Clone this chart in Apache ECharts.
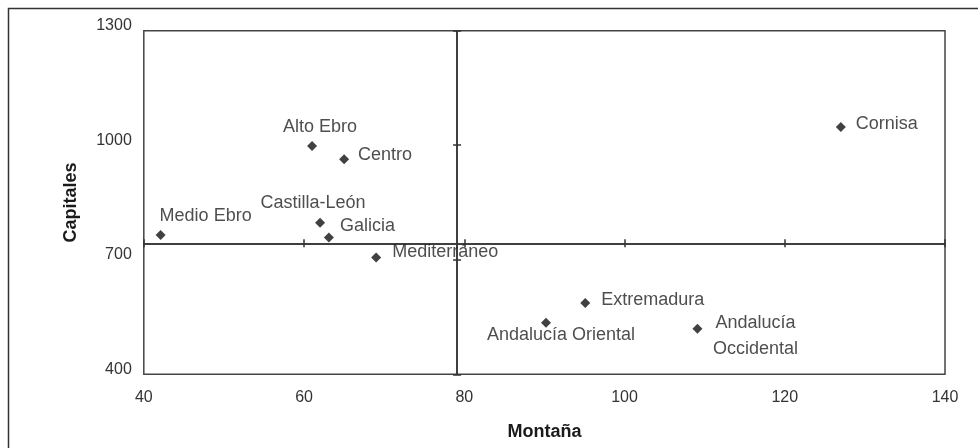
<!DOCTYPE html>
<html>
<head>
<meta charset="utf-8">
<script src="https://cdn.jsdelivr.net/npm/echarts@6/dist/echarts.min.js"></script>
<style>
  html, body { margin: 0; padding: 0; background: #fff; }
  #chart { width: 978px; height: 448px; }
</style>
</head>
<body>
<div id="chart"></div>
<script>
// ---- data ----
const regions   = ['Medio Ebro', 'Alto Ebro', 'Centro', 'Castilla-León', 'Galicia', 'Mediterráneo', 'Extremadura', 'Andalucía Oriental', 'Andalucía Occidental', 'Cornisa'];
const montana   = [42.1, 61.0, 65.0, 62.0, 63.1, 69.0, 95.1, 90.2, 109.1, 127.0];
const capitales = [765, 998, 963, 797, 758, 706, 587, 535, 519, 1048];
const crossX = 79.1;   // vertical axis crosses at Montaña value
const crossY = 743;    // horizontal axis crosses at Capitales value
const xTicks = { min: 40, max: 140, interval: 20 };
const yTicks = { min: 400, max: 1300, interval: 300 };

// ---- label styling (layout only) ----
const labelLayout = {
  'Medio Ebro':           { position: 'top',    offset: [45, 0] },
  'Alto Ebro':            { position: 'top',    offset: [8, 0] },
  'Castilla-León':        { position: 'top',    offset: [-7, -1] },
  'Andalucía Oriental':   { position: 'bottom', offset: [15, -7] },
  'Centro':               { position: 'right',  offset: [4, -4] },
  'Galicia':              { position: 'right',  offset: [1, -12] },
  'Mediterráneo':         { position: 'right',  offset: [6, -5] },
  'Extremadura':          { position: 'right',  offset: [6, -3] },
  'Cornisa':              { position: 'right',  offset: [5, -3] },
  'Andalucía Occidental': { position: 'right',  offset: [48, 7], align: 'center', formatter: 'Andalucía\nOccidental', lineHeight: 26 }
};

const FONT = 'Liberation Sans, Arial, sans-serif';
const points = regions.map((r, i) => {
  const l = labelLayout[r];
  return {
    name: r,
    value: [montana[i], capitales[i]],
    label: Object.assign({ show: true }, l, { formatter: l.formatter || r })
  };
});

const chart = echarts.init(document.getElementById('chart'));

const crossLine = { show: true, lineStyle: { color: '#333', width: 1.5 } };
const base = {
  animation: false,
  backgroundColor: '#fff',
  grid: { left: 143.8, right: 33, top: 30.7, bottom: 73.7, show: true, borderColor: '#444', borderWidth: 1.5, backgroundColor: 'transparent' },
  graphic: [{ type: 'rect', shape: { x: 8.5, y: 8.5, width: 1200, height: 1200 }, style: { fill: 'none', stroke: '#333', lineWidth: 1.5 }, silent: true }],
  xAxis: [
    { type: 'value', min: xTicks.min, max: xTicks.max, interval: xTicks.interval, position: 'bottom',
      name: 'Montaña', nameLocation: 'middle', nameGap: 49,
      nameTextStyle: { fontFamily: FONT, fontWeight: 'bold', fontSize: 18, color: '#1a1a1a' },
      axisLine: { show: false }, axisTick: { show: false }, splitLine: { show: false },
      axisLabel: { margin: 15, fontFamily: FONT, fontSize: 16, color: '#333' } },
    { type: 'value', min: xTicks.min, max: xTicks.max, interval: xTicks.interval, position: 'bottom', offset: 0,
      axisLine: crossLine, axisTick: { show: true, inside: true, length: 4, lineStyle: { color: '#333', width: 1.5 } },
      axisLabel: { show: false }, splitLine: { show: false } },
    { type: 'value', min: xTicks.min, max: xTicks.max, interval: xTicks.interval, position: 'bottom', offset: 0,
      axisLine: crossLine, axisTick: { show: true, inside: false, length: 4, lineStyle: { color: '#333', width: 1.5 } },
      axisLabel: { show: false }, splitLine: { show: false } }
  ],
  yAxis: [
    { type: 'value', min: yTicks.min, max: yTicks.max, interval: yTicks.interval, position: 'left',
      name: 'Capitales', nameLocation: 'middle', nameGap: 64,
      nameTextStyle: { fontFamily: FONT, fontWeight: 'bold', fontSize: 18, color: '#1a1a1a' },
      axisLine: { show: false }, axisTick: { show: false }, splitLine: { show: false },
      axisLabel: { margin: 12, fontFamily: FONT, fontSize: 16, color: '#333', verticalAlign: 'bottom', lineHeight: 10,
                   formatter: v => String(v) } },
    { type: 'value', min: yTicks.min, max: yTicks.max, interval: yTicks.interval, position: 'left', offset: 0,
      axisLine: crossLine, axisTick: { show: true, inside: true, length: 4, lineStyle: { color: '#333', width: 1.5 } },
      axisLabel: { show: false }, splitLine: { show: false } },
    { type: 'value', min: yTicks.min, max: yTicks.max, interval: yTicks.interval, position: 'left', offset: 0,
      axisLine: crossLine, axisTick: { show: true, inside: false, length: 4, lineStyle: { color: '#333', width: 1.5 } },
      axisLabel: { show: false }, splitLine: { show: false } }
  ],
  series: [{
    type: 'scatter',
    xAxisIndex: 0, yAxisIndex: 0,
    symbol: 'diamond', symbolSize: 10,
    itemStyle: { color: '#111' },
    label: { fontFamily: FONT, fontSize: 18, color: '#222', distance: 5 },
    data: points,
    z: 5
  }]
};
chart.setOption(base);

// place crossing axes at the crossing values
const pxCross = chart.convertToPixel({ xAxisIndex: 0 }, crossX);
const pxLeft  = chart.convertToPixel({ xAxisIndex: 0 }, xTicks.min);
const pyCross = chart.convertToPixel({ yAxisIndex: 0 }, crossY);
const pyBot   = chart.convertToPixel({ yAxisIndex: 0 }, yTicks.min);
chart.setOption({
  xAxis: [{}, { offset: -(pyBot - pyCross) }, { offset: -(pyBot - pyCross) }],
  yAxis: [{}, { offset: pxLeft - pxCross }, { offset: pxLeft - pxCross }]
});
</script>
</body>
</html>
